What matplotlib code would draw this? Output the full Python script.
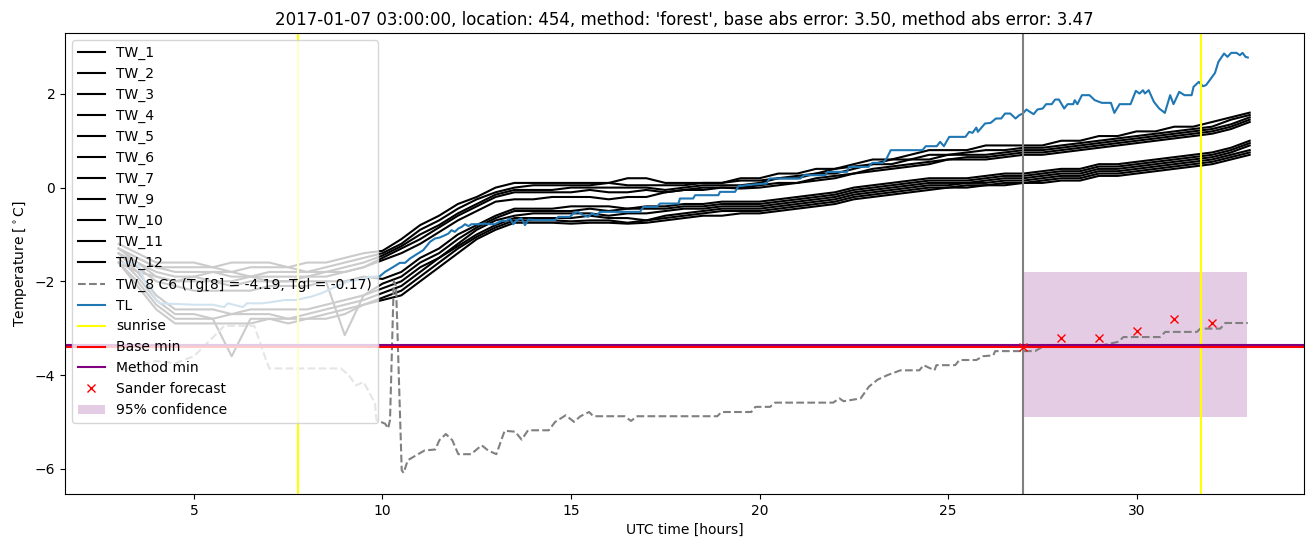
import numpy as np
import matplotlib
matplotlib.use("Agg")
import matplotlib.pyplot as plt

# ---------------- data ----------------
title = "2017-01-07 03:00:00, location: 454, method: 'forest', base abs error: 3.50, method abs error: 3.47"

# half-hourly time grid for TW sensors (hours UTC)
tw_hours = np.arange(3.0, 33.01, 0.5)

tw_names = ["TW_1", "TW_2", "TW_3", "TW_4", "TW_5", "TW_6", "TW_7",
            "TW_9", "TW_10", "TW_11", "TW_12"]

TW_1 = [-1.2, -1.4, -1.6, -1.6, -1.6, -1.7, -1.6, -1.6, -1.6, -1.7, -1.6, -1.6, -1.5, -1.4,
        -1.35, -1.1, -0.8, -0.6, -0.35, -0.2, 0.0, 0.1,
        0.1, 0.1, 0.1, 0.1, 0.1, 0.2, 0.2, 0.1, 0.1, 0.1, 0.1, 0.2,
        0.2, 0.3, 0.3, 0.4, 0.4, 0.5, 0.6, 0.6, 0.7, 0.8, 0.8, 0.8, 0.9, 0.9,
        0.9, 0.9, 1.0, 1.0, 1.1, 1.1, 1.2, 1.2, 1.3, 1.3, 1.4, 1.5, 1.6]
TW_2 = [-1.4, -1.7, -2.0, -2.1, -2.2, -2.2, -2.2, -2.2, -2.1, -2.1, -2.1, -2.0, -3.15, -2.3,
        -2.05, -1.9, -1.6, -1.4, -1.1, -0.85, -0.65, -0.5,
        -0.5, -0.5, -0.5, -0.45, -0.5, -0.45, -0.45, -0.45, -0.4, -0.4, -0.35, -0.35,
        -0.35, -0.3, -0.25, -0.2, -0.15, -0.05, 0.0, 0.05, 0.1, 0.15, 0.15, 0.15, 0.2, 0.25,
        0.25, 0.3, 0.35, 0.35, 0.45, 0.45, 0.5, 0.55, 0.6, 0.65, 0.7, 0.8, 0.95]
TW_3 = [-1.3, -1.5, -1.7, -1.7, -1.7, -1.7, -1.8, -1.7, -1.7, -1.7, -1.8, -1.7, -1.6, -1.5,
        -1.4, -1.2, -0.9, -0.7, -0.45, -0.25, -0.1, 0.0,
        0.05, 0.05, 0.05, 0.05, 0.1, 0.05, 0.05, 0.05, 0.05, 0.1, 0.1, 0.15,
        0.15, 0.2, 0.25, 0.3, 0.4, 0.45, 0.5, 0.6, 0.6, 0.7, 0.7, 0.75, 0.8, 0.8,
        0.85, 0.85, 0.9, 0.95, 1.0, 1.05, 1.1, 1.15, 1.2, 1.25, 1.3, 1.45, 1.55]
TW_4 = [-1.3, -1.6, -1.9, -2.0, -2.0, -2.0, -2.1, -2.0, -2.0, -2.0, -2.0, -2.0, -2.0, -1.9,
        -1.95, -1.8, -1.5, -1.3, -1.0, -0.8, -0.6, -0.45,
        -0.45, -0.45, -0.4, -0.4, -0.4, -0.45, -0.4, -0.4, -0.35, -0.35, -0.3, -0.3,
        -0.3, -0.25, -0.2, -0.15, -0.1, 0.0, 0.05, 0.1, 0.15, 0.2, 0.2, 0.2, 0.25, 0.3,
        0.3, 0.35, 0.4, 0.4, 0.5, 0.5, 0.55, 0.6, 0.65, 0.7, 0.75, 0.85, 1.0]
TW_5 = [-1.3, -1.5, -1.7, -1.8, -1.8, -1.8, -1.8, -1.9, -1.8, -1.8, -1.8, -1.8, -1.7, -1.6,
        -1.45, -1.25, -1.0, -0.8, -0.55, -0.35, -0.15, -0.05,
        -0.05, -0.05, 0.0, 0.0, 0.0, 0.0, 0.0, -0.05, 0.0, 0.05, 0.05, 0.05,
        0.1, 0.2, 0.2, 0.3, 0.3, 0.4, 0.5, 0.5, 0.6, 0.6, 0.7, 0.7, 0.7, 0.75,
        0.8, 0.8, 0.85, 0.9, 0.95, 1.0, 1.05, 1.1, 1.15, 1.2, 1.25, 1.35, 1.5]
TW_6 = [-1.4, -1.8, -2.3, -2.6, -2.6, -2.6, -2.7, -2.6, -2.6, -2.6, -2.6, -2.5, -2.4, -2.3,
        -2.15, -2.0, -1.7, -1.5, -1.2, -0.9, -0.7, -0.6,
        -0.55, -0.55, -0.55, -0.55, -0.6, -0.55, -0.55, -0.5, -0.45, -0.45, -0.4, -0.4,
        -0.4, -0.35, -0.3, -0.25, -0.2, -0.1, -0.05, 0.0, 0.05, 0.1, 0.1, 0.1, 0.15, 0.2,
        0.2, 0.25, 0.3, 0.3, 0.4, 0.4, 0.45, 0.5, 0.55, 0.6, 0.65, 0.75, 0.9]
TW_7 = [-1.4, -1.6, -1.8, -1.9, -1.9, -1.8, -1.9, -1.9, -1.9, -1.9, -1.9, -1.8, -1.8, -1.7,
        -1.5, -1.3, -1.1, -0.85, -0.6, -0.4, -0.2, -0.1,
        -0.1, -0.1, -0.1, -0.05, -0.1, -0.1, -0.05, -0.1, -0.05, 0.0, 0.0, 0.0,
        0.05, 0.1, 0.1, 0.2, 0.25, 0.3, 0.4, 0.45, 0.5, 0.55, 0.6, 0.65, 0.65, 0.7,
        0.75, 0.75, 0.8, 0.85, 0.9, 0.95, 1.0, 1.05, 1.1, 1.15, 1.2, 1.3, 1.45]
TW_9 = [-1.5, -1.9, -2.4, -2.7, -2.7, -2.8, -2.7, -2.7, -2.7, -2.8, -2.7, -2.6, -2.5, -2.4,
        -2.25, -2.1, -1.8, -1.5, -1.25, -1.0, -0.8, -0.65,
        -0.65, -0.65, -0.65, -0.6, -0.65, -0.65, -0.7, -0.6, -0.55, -0.5, -0.45, -0.45,
        -0.45, -0.4, -0.35, -0.3, -0.25, -0.15, -0.1, -0.05, 0.0, 0.05, 0.05, 0.1, 0.1, 0.15,
        0.15, 0.2, 0.25, 0.25, 0.35, 0.35, 0.4, 0.45, 0.5, 0.55, 0.6, 0.7, 0.8]
TW_10 = [-1.6, -1.8, -1.9, -2.0, -1.9, -2.0, -2.0, -1.9, -2.0, -2.0, -1.9, -1.9, -1.8, -1.7,
         -1.55, -1.4, -1.2, -0.95, -0.7, -0.5, -0.3, -0.25,
         -0.25, -0.2, -0.2, -0.2, -0.25, -0.2, -0.2, -0.1, -0.05, -0.05, 0.0, -0.02,
         0.0, 0.05, 0.1, 0.15, 0.2, 0.3, 0.35, 0.4, 0.45, 0.5, 0.6, 0.6, 0.6, 0.65,
         0.7, 0.7, 0.75, 0.8, 0.85, 0.9, 0.95, 1.0, 1.05, 1.1, 1.15, 1.25, 1.4]
TW_11 = [-1.6, -2.0, -2.5, -2.8, -2.8, -2.8, -3.6, -2.8, -2.8, -2.8, -2.8, -2.7, -2.6, -2.5,
         -2.35, -2.2, -1.9, -1.6, -1.3, -1.05, -0.85, -0.7,
         -0.7, -0.7, -0.72, -0.7, -0.7, -0.75, -0.7, -0.65, -0.6, -0.55, -0.5, -0.5,
         -0.5, -0.45, -0.4, -0.35, -0.3, -0.2, -0.15, -0.1, -0.05, 0.0, 0.0, 0.05, 0.05, 0.1,
         0.1, 0.15, 0.2, 0.2, 0.3, 0.3, 0.35, 0.4, 0.45, 0.5, 0.55, 0.65, 0.75]
TW_12 = [-1.6, -2.1, -2.6, -2.9, -2.9, -2.9, -2.9, -2.9, -2.8, -2.9, -2.8, -2.8, -2.7, -2.5,
         -2.4, -2.3, -2.0, -1.7, -1.4, -1.1, -0.9, -0.75,
         -0.75, -0.75, -0.77, -0.75, -0.75, -0.77, -0.75, -0.7, -0.65, -0.6, -0.6, -0.55,
         -0.55, -0.5, -0.45, -0.4, -0.35, -0.25, -0.2, -0.15, -0.1, -0.05, 0.0, 0.0, 0.05, 0.05,
         0.1, 0.1, 0.15, 0.15, 0.25, 0.25, 0.3, 0.35, 0.4, 0.45, 0.5, 0.6, 0.7]
tw_values = [TW_1, TW_2, TW_3, TW_4, TW_5, TW_6, TW_7, TW_9, TW_10, TW_11, TW_12]

# TW_8 (dashed)
tw8_label = "TW_8 C6 (Tg[8] = -4.19, Tgl = -0.17)"
tw8_hours = [3.07, 3.5, 4.0, 4.5, 5.0, 5.5, 5.8, 6.6, 6.9, 7.0, 8.9, 9.1, 9.3, 9.5, 9.8,
             9.84, 10.07, 10.15, 10.2, 10.3, 10.36, 10.51, 10.56, 10.67, 10.90, 11.12,
             11.40, 11.51, 11.68, 11.85, 12.01, 12.35, 12.63, 12.80, 13.02, 13.24, 13.52,
             13.69, 13.86, 14.41, 14.58, 14.86, 15.08, 15.25, 15.48, 15.59, 16.42, 16.59,
             16.76, 18.88, 18.99, 19.78, 19.89, 20.28, 20.41, 21.95, 22.12, 22.23, 22.68,
             22.90, 23.13, 23.40, 23.74, 24.24, 24.35, 24.64, 24.69, 25.19, 25.30, 25.75,
             25.92, 26.20, 26.25, 27.31, 27.5, 28.9, 29.52, 29.65, 30.62, 30.76, 31.60,
             31.69, 32.22, 32.35, 32.95]
tw8_values = [-3.9, -3.8, -3.7, -3.75, -3.6, -3.2, -2.95, -2.95, -3.65, -3.86, -3.86, -4.0,
              -4.22, -4.15, -4.6, -4.96, -5.04, -5.14, -4.96, -2.0, -2.1, -6.03, -6.09, -5.82,
              -5.71, -5.61, -5.59, -5.39, -5.26, -5.39, -5.69, -5.69, -5.50, -5.61, -5.69,
              -5.19, -5.21, -5.38, -5.18, -5.18, -5.00, -4.86, -5.00, -4.88, -4.79, -4.88,
              -4.88, -4.98, -4.88, -4.88, -4.79, -4.79, -4.68, -4.68, -4.59, -4.59, -4.50,
              -4.56, -4.50, -4.25, -4.10, -4.00, -3.90, -3.90, -3.79, -3.90, -3.79, -3.79,
              -3.68, -3.68, -3.60, -3.58, -3.49, -3.49, -3.40, -3.40, -3.29, -3.19, -3.19,
              -3.08, -3.08, -3.01, -3.01, -2.89, -2.89]

# TL
tl_hours = [3.07, 3.5, 3.7, 4.0, 4.1, 5.0, 5.5, 5.8, 5.9, 6.3, 6.4, 6.8, 7.0, 7.4, 7.7,
            8.1, 8.4, 8.8, 9.1, 9.5, 9.67, 9.93, 10.07, 10.29, 10.46, 10.60, 10.73, 10.91,
            11.08, 11.26, 11.39, 11.52, 11.66, 11.75, 11.83, 11.92, 12.01, 12.10, 12.19,
            12.28, 12.36, 12.59, 12.72, 12.85, 12.98, 13.16, 13.29, 13.38, 13.47, 13.56,
            13.69, 13.78, 13.87, 14.04, 14.27, 14.58, 14.66, 14.97, 15.06, 15.19, 15.33,
            15.46, 15.55, 15.68, 15.77, 16.03, 16.83, 16.92, 17.27, 17.36, 17.85, 17.89,
            18.24, 18.29, 18.91, 18.95, 19.35, 19.44,
            19.75, 20.18, 20.27, 21.08, 21.18, 21.75, 21.80, 22.32, 22.37, 22.89, 22.99,
            23.27, 23.37, 23.48, 24.32, 24.41, 24.70, 24.79, 24.89, 25.03, 25.46, 25.56,
            25.65, 25.75, 25.79, 25.98, 26.13, 26.27, 26.41, 26.51, 26.65, 26.79, 26.89,
            26.98, 27.08, 27.17, 27.27, 27.37, 27.51, 27.60, 27.75, 27.84, 27.94, 28.08,
            28.17, 28.32, 28.36, 28.43, 28.55, 28.75, 28.89, 29.08, 29.32, 29.41, 29.55,
            29.84, 29.98, 30.08, 30.17, 30.22, 30.32, 30.46, 30.60, 30.75, 30.89, 30.98,
            31.13, 31.27, 31.46, 31.51, 31.65, 31.76, 31.84, 31.94, 32.08, 32.17, 32.32,
            32.41, 32.51, 32.65, 32.74, 32.81, 32.89, 32.95]
tl_values = [-1.62, -1.62, -2.0, -2.4, -2.47, -2.5, -2.5, -2.55, -2.47, -2.55, -2.47, -2.47,
             -2.45, -2.4, -2.4, -2.33, -2.25, -2.1, -2.0, -1.95, -1.905, -1.891, -1.798,
             -1.692, -1.606, -1.606, -1.514, -1.421, -1.336, -1.158, -1.087, -1.065, -1.016,
             -0.980, -0.909, -0.944, -0.873, -0.838, -0.781, -0.823, -0.781, -0.781, -0.767,
             -0.781, -0.781, -0.710, -0.710, -0.660, -0.781, -0.695, -0.660, -0.802, -0.681,
             -0.695, -0.695, -0.695, -0.624, -0.624, -0.553, -0.518, -0.589, -0.624, -0.553,
             -0.589, -0.518, -0.518, -0.518, -0.411, -0.411, -0.340, -0.340, -0.233, -0.233,
             -0.162, -0.162, -0.091, -0.091, 0.030,
             0.06, 0.087, 0.194, 0.194, 0.265, 0.265, 0.336, 0.336, 0.443, 0.443, 0.528,
             0.528, 0.621, 0.799, 0.799, 0.884, 0.884, 0.977, 0.884, 1.083, 1.083, 1.190,
             1.169, 1.282, 1.190, 1.368, 1.382, 1.475, 1.475, 1.581, 1.581, 1.475, 1.546,
             1.581, 1.667, 1.617, 1.567, 1.667, 1.688, 1.781, 1.781, 1.880, 1.880, 1.688,
             1.781, 1.781, 1.866, 1.781, 1.973, 1.973, 1.866, 1.809, 1.809, 1.595, 1.781,
             1.781, 2.065, 2.008, 2.079, 2.008, 2.079, 1.830, 1.688, 1.595, 1.973, 1.781,
             2.044, 1.973, 1.973, 2.150, 2.257, 2.165, 2.186, 2.293, 2.449, 2.684, 2.862,
             2.791, 2.876, 2.876, 2.826, 2.876, 2.791, 2.777]

sunrise_hours = [7.77, 31.70]
forecast_time = 27.0
base_min = -3.40
method_min = -3.36

sander_hours = [27, 28, 29, 30, 31, 32]
sander_values = [-3.41, -3.22, -3.20, -3.07, -2.80, -2.90]

conf_hours = [27.0, 32.92]
conf_low = [-4.89, -4.89]
conf_high = [-1.81, -1.81]

# ---------------- plot ----------------
fig = plt.figure(figsize=(13.13, 5.47), dpi=100)
ax = fig.add_axes([65 / 1313, 1 - 494 / 547, (1304 - 65) / 1313, (494 - 33) / 547])

for name, vals in zip(tw_names, tw_values):
    ax.plot(tw_hours, vals, color="black", label=name)
ax.plot(tw8_hours, tw8_values, color="gray", linestyle="--", label=tw8_label)
ax.plot(tl_hours, tl_values, color="C0", label="TL")
ax.axvline(sunrise_hours[0], color="yellow", label="sunrise")
ax.axvline(sunrise_hours[1], color="yellow")
ax.axvline(forecast_time, color="gray")
ax.axhline(base_min, color="red", label="Base min")
ax.axhline(method_min, color="purple", label="Method min")
ax.plot(sander_hours, sander_values, "x", color="red", label="Sander forecast")
ax.fill_between(conf_hours, conf_low, conf_high, color="purple", alpha=0.2,
                linewidth=0, label="95% confidence")

ax.set_xlim(1.58, 34.44)
ax.set_ylim(-6.54, 3.30)
ax.set_xticks([5, 10, 15, 20, 25, 30])
ax.set_yticks([-6, -4, -2, 0, 2])
ax.set_xlabel("UTC time [hours]")
ax.set_ylabel(r"Temperature [$^\circ$C]")
ax.set_title(title)
ax.legend(loc="upper left")

fig.savefig("out.png", dpi=100)
